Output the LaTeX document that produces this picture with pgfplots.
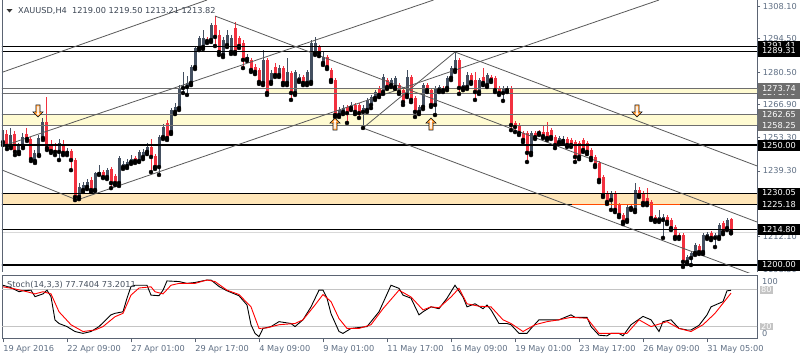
\documentclass[border=0pt]{standalone}
\usepackage{pgfplots}
\pgfplotsset{compat=1.18}
\usepackage{pgfplotstable}
\usepackage{fontspec}
\setmainfont{DejaVu Sans}
\definecolor{bull}{HTML}{434F60}
\definecolor{bear}{HTML}{F2313F}
\definecolor{frame}{HTML}{5B6473}
\definecolor{tlab}{HTML}{5F6F84}
\definecolor{lemon}{HTML}{FFFBD2}
\definecolor{peach}{HTML}{FFE6B8}
\definecolor{zone}{HTML}{6E6E6E}
\definecolor{trend}{HTML}{5A5A5A}
\definecolor{orng}{HTML}{FF4A00}
\definecolor{lvl}{HTML}{C4C4C4}

\pgfdeclareplotmark{uparr}{%
 \filldraw[fill=white, draw=black, line width=0.6pt] (0pt,6pt) -- (5pt,1pt) -- (2pt,1pt) -- (2pt,-6pt) -- (-2pt,-6pt) -- (-2pt,1pt) -- (-5pt,1pt) -- cycle;
 \draw[orange, line width=0.6pt] (0pt,4.8pt) -- (3.1pt,1.8pt) -- (1.2pt,1.8pt) -- (1.2pt,-5.2pt) -- (-1.2pt,-5.2pt) -- (-1.2pt,1.8pt) -- (-3.1pt,1.8pt) -- cycle;}
\pgfdeclareplotmark{dnarr}{%
 \filldraw[fill=white, draw=black, line width=0.6pt] (0pt,-6pt) -- (5pt,-1pt) -- (2pt,-1pt) -- (2pt,6pt) -- (-2pt,6pt) -- (-2pt,-1pt) -- (-5pt,-1pt) -- cycle;
 \draw[orange, line width=0.6pt] (0pt,-4.8pt) -- (3.1pt,-1.8pt) -- (1.2pt,-1.8pt) -- (1.2pt,5.2pt) -- (-1.2pt,5.2pt) -- (-1.2pt,-1.8pt) -- (-3.1pt,-1.8pt) -- cycle;}

\pgfplotstableread{
i o h l c
0 1251.3 1257.6 1250.1 1256.3
2 1249.7 1257.2 1248.8 1254.3
4 1247.2 1250.9 1246.3 1249.7
5 1249.7 1255.1 1248.8 1253.4
8 1243.4 1248.0 1242.6 1246.8
9 1245.9 1254.3 1245.5 1253.0
10 1253.0 1261.4 1252.2 1259.7
14 1247.2 1252.6 1243.8 1250.9
16 1246.8 1248.8 1245.9 1247.6
19 1228.4 1234.2 1227.5 1232.6
20 1231.3 1234.6 1230.5 1233.4
21 1232.6 1235.9 1231.7 1234.6
23 1231.3 1238.8 1230.9 1238.4
24 1238.0 1241.7 1237.6 1238.8
26 1236.7 1240.5 1235.9 1239.6
29 1234.2 1245.5 1233.0 1244.7
30 1240.9 1243.4 1240.1 1242.2
31 1241.3 1244.2 1240.5 1243.0
32 1243.0 1245.9 1242.2 1244.2
34 1243.4 1248.0 1243.0 1247.2
35 1245.1 1248.4 1244.2 1247.2
36 1247.2 1250.9 1246.3 1249.3
39 1240.9 1254.3 1237.6 1253.4
40 1253.4 1258.9 1252.6 1257.6
42 1255.5 1265.5 1254.7 1264.7
43 1263.9 1267.6 1263.0 1266.0
44 1265.5 1275.1 1264.7 1273.9
45 1273.9 1280.6 1271.8 1274.3
46 1274.3 1278.9 1271.0 1276.0
47 1276.0 1283.5 1275.1 1282.6
48 1282.6 1291.4 1281.8 1290.6
49 1290.6 1295.6 1289.7 1294.8
50 1291.0 1298.1 1290.2 1294.8
52 1293.9 1301.0 1293.1 1300.2
55 1287.7 1295.2 1286.8 1293.9
56 1291.8 1298.1 1291.0 1296.0
57 1288.9 1296.0 1288.1 1294.8
61 1286.0 1288.1 1285.2 1286.8
65 1276.0 1289.7 1275.1 1285.6
67 1276.4 1281.4 1275.6 1280.1
69 1279.3 1283.5 1278.5 1282.2
71 1276.0 1286.4 1275.1 1280.6
73 1271.8 1281.4 1271.0 1280.6
74 1277.2 1279.7 1276.4 1278.5
76 1276.0 1281.4 1275.1 1280.6
77 1276.4 1293.9 1275.6 1292.7
78 1288.5 1295.2 1287.7 1292.7
80 1284.3 1288.9 1283.5 1286.8
84 1262.6 1266.0 1261.8 1264.7
85 1263.9 1266.8 1263.0 1265.5
87 1265.5 1268.0 1264.7 1266.8
90 1263.9 1266.8 1257.2 1265.5
91 1264.7 1269.7 1263.9 1268.9
92 1266.8 1271.0 1265.5 1270.1
93 1269.7 1273.0 1268.9 1272.2
95 1272.2 1279.7 1271.4 1278.5
97 1275.1 1278.1 1274.3 1277.2
98 1274.3 1278.9 1273.5 1278.1
101 1271.0 1281.4 1270.1 1278.5
104 1263.9 1266.8 1263.0 1266.0
105 1266.0 1276.0 1265.1 1275.1
108 1266.8 1274.7 1262.6 1273.9
109 1273.0 1275.1 1272.2 1274.3
111 1273.9 1278.9 1273.0 1278.1
112 1278.1 1283.1 1277.2 1282.2
113 1281.4 1288.9 1280.6 1285.6
115 1273.9 1276.4 1273.0 1275.1
116 1274.3 1280.6 1273.5 1279.3
119 1272.2 1278.1 1271.4 1277.2
121 1275.1 1280.1 1274.3 1279.3
125 1271.8 1274.7 1268.5 1273.9
126 1273.0 1274.7 1272.2 1273.9
132 1246.8 1255.9 1245.9 1255.1
139 1251.3 1253.8 1250.5 1253.0
140 1251.8 1253.8 1250.9 1252.6
152 1227.1 1230.9 1223.0 1230.1
156 1218.8 1225.0 1218.0 1224.2
158 1223.0 1234.2 1222.1 1231.3
164 1218.8 1223.0 1218.0 1220.0
165 1218.8 1221.3 1211.3 1220.0
171 1201.3 1204.2 1200.4 1203.3
172 1202.9 1205.8 1200.0 1205.0
173 1205.0 1209.2 1204.2 1208.3
175 1205.4 1213.4 1204.6 1212.5
176 1211.7 1213.8 1210.9 1212.9
178 1211.3 1213.4 1207.5 1212.5
179 1211.7 1217.5 1210.9 1216.7
181 1215.4 1219.6 1214.6 1218.8
}\bulltab

\pgfplotstableread{
i o h l c
1 1254.7 1256.3 1248.4 1249.7
3 1254.7 1255.9 1245.9 1247.2
6 1254.7 1257.2 1251.8 1252.6
7 1252.6 1253.4 1243.4 1244.2
11 1259.7 1270.1 1248.0 1248.8
12 1250.5 1252.2 1246.8 1247.6
13 1248.0 1250.9 1245.9 1247.2
15 1250.5 1252.2 1245.9 1246.8
17 1247.6 1248.4 1239.6 1243.8
18 1243.8 1244.7 1227.1 1228.4
22 1235.5 1236.7 1230.5 1231.3
25 1238.8 1239.6 1236.3 1236.7
27 1240.1 1240.9 1232.1 1234.2
28 1237.2 1238.0 1233.4 1234.2
33 1244.7 1245.5 1242.6 1243.4
37 1249.3 1252.6 1238.8 1245.1
38 1245.5 1246.3 1240.1 1240.9
41 1259.3 1260.5 1252.2 1253.0
51 1293.9 1295.2 1292.7 1293.5
53 1300.2 1303.9 1291.4 1295.2
54 1296.0 1298.1 1287.7 1288.9
58 1298.9 1301.4 1288.1 1288.9
59 1294.8 1295.6 1290.6 1291.4
60 1292.7 1293.9 1282.2 1285.6
62 1285.6 1286.4 1280.6 1281.4
63 1282.6 1283.9 1279.7 1280.6
64 1281.4 1282.2 1275.6 1276.4
66 1285.6 1286.4 1271.0 1271.8
68 1282.6 1284.3 1278.5 1279.3
70 1282.2 1283.1 1275.1 1276.0
72 1280.1 1281.0 1268.9 1271.8
75 1278.5 1279.3 1275.1 1276.0
79 1291.0 1291.8 1287.2 1288.5
81 1286.8 1287.7 1281.8 1282.6
82 1281.4 1282.2 1276.4 1277.2
83 1277.2 1278.1 1261.8 1262.6
86 1266.0 1266.8 1259.3 1263.4
88 1266.8 1267.6 1263.0 1263.9
89 1266.8 1267.6 1261.4 1263.4
94 1273.9 1274.7 1270.1 1271.0
96 1277.2 1278.1 1273.5 1274.3
99 1275.1 1276.0 1271.4 1272.2
100 1273.0 1273.9 1266.8 1268.0
102 1278.5 1279.3 1268.0 1268.9
103 1269.7 1270.5 1261.8 1263.9
106 1275.1 1276.0 1272.2 1273.0
107 1273.0 1273.9 1266.0 1266.8
110 1273.9 1274.7 1272.2 1273.0
114 1285.6 1286.4 1271.4 1273.9
117 1279.3 1280.1 1275.6 1276.4
118 1277.2 1280.6 1268.9 1272.2
120 1278.5 1282.2 1275.1 1276.0
122 1278.5 1279.3 1276.4 1277.2
123 1278.1 1278.9 1272.2 1273.0
124 1273.9 1274.7 1271.0 1271.8
127 1273.9 1274.7 1256.3 1258.4
128 1259.3 1260.1 1255.5 1257.6
129 1258.4 1259.3 1254.3 1255.1
130 1255.1 1255.9 1251.3 1252.2
131 1255.1 1255.9 1243.0 1246.8
133 1255.1 1255.9 1252.6 1253.4
134 1255.5 1256.3 1254.3 1255.1
135 1255.5 1258.4 1253.0 1253.8
136 1255.5 1259.7 1252.2 1253.0
137 1256.3 1257.2 1252.6 1253.4
138 1253.4 1254.3 1248.8 1250.1
141 1252.6 1253.4 1249.3 1250.1
142 1252.2 1253.0 1249.3 1250.1
143 1251.3 1252.2 1243.0 1245.1
144 1250.9 1251.8 1244.2 1245.1
145 1252.2 1253.0 1247.2 1248.0
146 1250.9 1251.8 1246.3 1247.2
147 1248.0 1248.8 1243.8 1244.7
148 1245.1 1245.9 1240.9 1241.7
149 1242.6 1243.4 1234.6 1235.5
150 1236.7 1237.6 1228.4 1229.2
151 1230.1 1230.9 1225.5 1226.3
153 1230.1 1230.9 1222.1 1223.0
154 1225.0 1225.9 1220.0 1220.9
155 1220.9 1221.7 1217.1 1218.0
157 1224.2 1225.0 1223.0 1223.8
159 1231.3 1232.6 1228.4 1229.2
160 1230.1 1230.9 1225.0 1225.9
161 1228.0 1232.1 1225.0 1225.9
162 1226.3 1227.1 1218.8 1219.6
163 1220.0 1220.9 1218.0 1218.8
166 1220.0 1220.9 1217.1 1218.0
167 1218.8 1219.6 1214.6 1215.4
168 1215.9 1216.7 1210.9 1211.7
169 1212.5 1213.4 1210.9 1211.7
170 1212.5 1213.4 1199.2 1201.3
174 1207.9 1208.8 1204.6 1205.4
177 1213.4 1214.2 1210.4 1211.3
180 1217.5 1218.4 1212.9 1213.8
182 1219.00 1219.50 1213.21 1213.82
}\beartab

\begin{document}
\fontsize{8.2}{9.8}\selectfont
\begin{tikzpicture}[x=1pt,y=1pt]
\fill[white] (0pt,0pt) rectangle (800pt,-360pt);
\useasboundingbox (0pt,0pt) rectangle (800pt,-360pt);

\begin{axis}[
  at={(2pt,0pt)}, anchor=north west,
  scale only axis, width=755pt, height=272pt,
  xmin=-0.25, xmax=188.5, ymin=1197.08, ymax=1310.61,
  axis x line=none, axis y line*=right,
  axis line style={frame, line width=0.8pt},
  xtick=\empty,
  ytick={1198.3,1212.1,1225.7,1239.3,1253.3,1266.9,1280.5,1294.5,1308.1},
  yticklabels={1198.30,1212.10,1225.70,1239.30,1253.30,1266.90,1280.50,1294.50,1308.10},
  tick align=outside, major tick length=3pt,
  ytick style={frame, line width=0.6pt},
  yticklabel style={text=tlab, anchor=west},
  /pgf/number format/assume math mode=true,
]
% zones
\addplot[fill=lemon, draw=none] coordinates {(66.25,1271.79) (190,1271.79) (190,1273.74) (66.25,1273.74)};
\addplot[fill=lemon, draw=none] coordinates {(-1,1258.25) (190,1258.25) (190,1262.65) (-1,1262.65)};
\addplot[fill=peach, draw=none] coordinates {(-1,1225.18) (190,1225.18) (190,1230.05) (-1,1230.05)};
\addplot[gray!30, line width=0.6pt] coordinates {(-1,1213.82) (190,1213.82)};

% candles
\addplot[only marks, mark=none, error bars/.cd, y dir=plus, y explicit, error mark=none,
  error bar style={line width=1pt, bull}]
  table[x=i, y=l, y error plus expr=\thisrow{h}-\thisrow{l}] {\bulltab};
\addplot[only marks, mark=none, error bars/.cd, y dir=plus, y explicit, error mark=none,
  error bar style={line width=3pt, bull}]
  table[x=i, y=o, y error plus expr=\thisrow{c}-\thisrow{o}] {\bulltab};
\addplot[only marks, mark=none, error bars/.cd, y dir=plus, y explicit, error mark=none,
  error bar style={line width=1pt, bear}]
  table[x=i, y=l, y error plus expr=\thisrow{h}-\thisrow{l}] {\beartab};
\addplot[only marks, mark=none, error bars/.cd, y dir=plus, y explicit, error mark=none,
  error bar style={line width=3pt, bear}]
  table[x=i, y=c, y error plus expr=\thisrow{o}-\thisrow{c}] {\beartab};

% zone borders and horizontal levels
\addplot[zone, line width=0.9pt] coordinates {(-1,1273.74) (190,1273.74)};
\addplot[zone, line width=0.9pt] coordinates {(-1,1271.79) (190,1271.79)};
\addplot[zone, line width=0.9pt] coordinates {(-1,1262.65) (190,1262.65)};
\addplot[zone, line width=0.9pt] coordinates {(-1,1258.25) (190,1258.25)};
\addplot[black, line width=0.9pt] coordinates {(-1,1291.41) (190,1291.41)};
\addplot[black, line width=0.9pt] coordinates {(-1,1289.31) (190,1289.31)};
\addplot[black, line width=1.6pt] coordinates {(-1,1250.00) (190,1250.00)};
\addplot[black, line width=0.9pt] coordinates {(-1,1230.05) (190,1230.05)};
\addplot[black, line width=0.9pt] coordinates {(-1,1225.18) (190,1225.18)};
\addplot[black, line width=1.6pt] coordinates {(-1,1214.80) (190,1214.80)};
\addplot[black, line width=1.6pt] coordinates {(-1,1200.00) (190,1200.00)};
\addplot[orng, line width=1.6pt] coordinates {(142.25,1225.18) (169.25,1225.18)};

% trend lines
\addplot[trend, line width=0.8pt] coordinates {(-0.25,1280.41) (51,1310.61)};
\addplot[trend, line width=0.8pt] coordinates {(-0.25,1249.5) (107.65,1310.61)};
\addplot[trend, line width=0.8pt] coordinates {(18.5,1227.13) (164,1310.61)};
\addplot[trend, line width=0.8pt] coordinates {(-0.25,1239.65) (18.5,1227.13)};
\addplot[trend, line width=0.8pt] coordinates {(53,1303.93) (188.5,1217.95)};
\addplot[trend, line width=0.8pt] coordinates {(113,1288.9) (188.5,1241.36)};
\addplot[trend, line width=0.8pt] coordinates {(90,1257.18) (188.5,1195.4)};
\addplot[trend, line width=0.8pt] coordinates {(90,1257.18) (113,1288.9)};

% arrows
\addplot[only marks, mark=uparr] coordinates {(83,1258.85) (107,1258.85)};
\addplot[only marks, mark=dnarr] coordinates {(8.75,1264.3) (158.5,1264.3)};
\end{axis}

\draw[frame, line width=0.8pt] (2pt,0pt) -- (2pt,-272pt);

% title
\fill[black!80] (6.5pt,-9pt) -- (12.5pt,-9pt) -- (9.5pt,-12.5pt) -- cycle;
\node[anchor=west, inner sep=0pt, text={rgb,255:red,60;green,70;blue,84}] at (18pt,-11pt) {XAUUSD,H4\ \ 1219.00 1219.50 1213.21 1213.82};

% price boxes
\tikzset{pbox/.style={anchor=west, inner xsep=0pt, inner ysep=0pt, minimum height=11pt, minimum width=42.5pt, text=white, fill=#1}}
\node[pbox=black] at (757.5pt,-46.0pt) {1291.41};
\node[pbox=black] at (757.5pt,-51.0pt) {1289.31};
\node[pbox=zone] at (757.5pt,-93.0pt) {1271.79};
\node[pbox=zone] at (757.5pt,-88.3pt) {1273.74};
\node[pbox=zone] at (757.5pt,-114.9pt) {1262.65};
\node[pbox=zone] at (757.5pt,-125.4pt) {1258.25};
\node[pbox=black] at (757.5pt,-145.2pt) {1250.00};
\node[pbox=black] at (757.5pt,-193.0pt) {1230.05};
\node[pbox=black] at (757.5pt,-204.7pt) {1225.18};
\node[pbox=black] at (757.5pt,-229.5pt) {1214.80};
\node[pbox=black] at (757.5pt,-265.0pt) {1200.00};

\begin{axis}[
  at={(2pt,-275pt)}, anchor=north west,
  scale only axis, width=755pt, height=63.3pt,
  xmin=-0.25, xmax=188.5, ymin=0, ymax=102.6,
  axis line style={frame, line width=0.8pt},
  xtick={0,16,...,176},
  xticklabels={19 Apr 2016,22 Apr 09:00,27 Apr 01:00,29 Apr 17:00,4 May 09:00,9 May 01:00,11 May 17:00,16 May 09:00,19 May 01:00,23 May 17:00,26 May 09:00,31 May 05:00},
  xtick pos=bottom, tick align=outside, major tick length=4pt,
  xtick style={frame, line width=0.6pt},
  xticklabel style={anchor=north west, xshift=-2.6pt, text=tlab},
  ytick=\empty,
]
\addplot[lvl, line width=0.8pt] coordinates {(-1,80) (190,80)};
\addplot[lvl, line width=0.8pt] coordinates {(-1,20) (190,20)};
\addplot[black, line width=0.9pt] coordinates {(0,86) (2,82) (4,75.5) (5,77) (7,78) (8,67.5) (10,72) (11,78) (12,67.5) (13,29.7) (14,24) (16,19) (18,11) (20,8) (22,11) (24,19) (27,38) (28,40.5) (30,43) (31,65) (32,84) (33,86) (36,86) (37,70) (39,69) (40,78) (41,93) (44,92) (46,89) (48,90.5) (51,94.5) (52,94.5) (54,84) (56,77) (59,69) (61,54) (62,22) (63,8) (64,2.6) (65,16) (67,19) (69,27) (72,24) (73,19) (75,30) (77,51) (79,78) (80,78) (81,65) (82,40) (84,11) (85,8) (87,16) (91,19) (94,43) (97,86) (99,81) (100,70) (102,65) (104,38) (105,43) (107,51) (109,48) (111,65) (113,86) (115,67) (116,51) (118,56) (120,48) (121,54) (122,46) (124,24) (126,24) (127,22) (129,8) (131,8) (132,16) (134,30) (137,30) (139,30) (142,38) (143,34) (146,34) (147,19) (149,5) (151,4) (152,8) (154,8) (155,4) (157,22) (160,35.5) (162,30) (164,11) (165,27) (167,30) (169,16) (171,13.5) (172,13.5) (174,21) (176,38) (177,51) (180,59.5) (181,77) (182,77.74)};
\addplot[red, line width=0.9pt] coordinates {(0,83.5) (3,80) (6,75.5) (8,72) (10,75.5) (12,72) (14,43) (17,22) (20,11) (23,13.5) (25,19) (28,35) (30,40.5) (32,70) (34,81.5) (37,83.5) (38,75.5) (40,72) (42,86) (44,89) (48,89) (51,94.5) (53,92) (56,78) (59,71) (62,51) (64,16) (66,17) (69,22) (73,24) (75,30) (78,54) (80,71) (82,59.5) (84,32) (86,16) (89,16) (92,22) (95,48) (99,78) (102,67) (105,46) (107,51) (109,49.5) (112,67) (114,81) (116,56) (119,52) (122,51) (125,30) (127,24) (130,11) (133,22) (136,27) (139,30) (142,34) (146,32.5) (149,8) (152,8) (156,8) (159,30) (162,19) (166,27) (169,16) (172,11) (175,22) (178,40.5) (182,73.2)};
\end{axis}

\node[anchor=west, inner sep=0pt, text={rgb,255:red,70;green,80;blue,94}] at (7pt,-285pt) {Stoch(14,3,3) 77.7404 73.2011};
\node[anchor=west, inner sep=0pt, text=tlab] at (762pt,-282pt) {100};
\node[anchor=west, inner xsep=1pt, inner ysep=0.5pt, fill=lvl, text=white] at (760pt,-290pt) {80};
\node[anchor=west, inner xsep=1pt, inner ysep=0.5pt, fill=lvl, text=white] at (760pt,-326.5pt) {20};
\node[anchor=west, inner sep=0pt, text=tlab] at (762pt,-333.5pt) {0};
\end{tikzpicture}
\end{document}
